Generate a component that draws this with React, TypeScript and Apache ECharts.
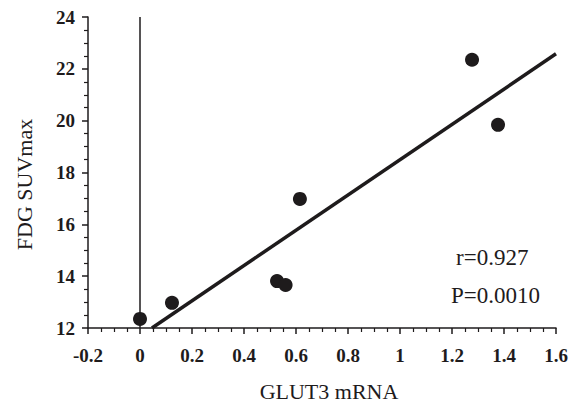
import React, { useEffect, useRef } from "react";
import * as echarts from "echarts";

const glut3: number[] = [0, 0.123, 0.527, 0.56, 0.615, 1.277, 1.377];
const suvmax: number[] = [12.35, 12.97, 13.81, 13.66, 16.98, 22.35, 19.84];
const fitX: number[] = [0.046, 1.6];
const fitY: number[] = [12, 22.58];
const statsText: string[] = ["r=0.927", "P=0.0010"];

const FONT = "'Liberation Serif', 'Times New Roman', serif";
const INK = "#1e1b1c";

export default function App() {
  const ref = useRef<HTMLDivElement>(null);
  useEffect(() => {
    if (!ref.current) return;
    const chart = echarts.init(ref.current, undefined, { renderer: "svg" });
    chart.setOption({
      animation: false,
      backgroundColor: "#ffffff",
      grid: { left: 88, right: 19, top: 17, bottom: 74, outerBoundsMode: "none", containLabel: false },
      xAxis: {
        type: "value",
        min: -0.2,
        max: 1.6,
        interval: 0.2,
        name: "GLUT3 mRNA",
        nameLocation: "middle",
        nameGap: 52,
        nameTextStyle: { fontFamily: FONT, fontSize: 22, color: INK, padding: [0, 0, 0, 14] },
        axisLine: { show: true, onZero: false, lineStyle: { color: INK, width: 1.5 } },
        axisTick: { show: true, length: 6, lineStyle: { color: INK, width: 1.5 } },
        minorTick: { show: true, splitNumber: 4, length: 4, lineStyle: { color: INK, width: 1.2 } },
        splitLine: { show: false },
        axisLabel: {
          fontFamily: FONT,
          fontSize: 19,
          fontWeight: "bold",
          color: INK,
          margin: 18,
          formatter: (v: number) => String(Math.round(v * 10) / 10),
        },
      },
      yAxis: {
        type: "value",
        min: 12,
        max: 24,
        interval: 2,
        name: "FDG SUVmax",
        nameLocation: "middle",
        nameGap: 53,
        nameTextStyle: { fontFamily: FONT, fontSize: 22, color: INK, padding: [0, 24, 0, 0] },
        axisLine: { show: true, onZero: false, lineStyle: { color: INK, width: 1.5 } },
        axisTick: { show: true, length: 6, lineStyle: { color: INK, width: 1.5 } },
        minorTick: { show: true, splitNumber: 4, length: 4, lineStyle: { color: INK, width: 1.2 } },
        splitLine: { show: false },
        axisLabel: {
          fontFamily: FONT,
          fontSize: 19,
          fontWeight: "bold",
          color: INK,
          margin: 13,
        },
      },
      series: [
        {
          type: "line",
          data: fitX.map((x, i) => [x, fitY[i]]),
          showSymbol: false,
          symbol: "none",
          lineStyle: { color: INK, width: 3.5 },
          z: 2,
        },
        {
          type: "scatter",
          data: glut3.map((x, i) => [x, suvmax[i]]),
          symbolSize: 14,
          itemStyle: { color: INK, opacity: 1 },
          z: 3,
          markLine: {
            silent: true,
            symbol: "none",
            label: { show: false },
            lineStyle: { color: INK, width: 1.5, type: "solid" },
            data: [{ xAxis: 0 }],
          },
        },
      ],
      graphic: [
        {
          type: "text",
          left: 456,
          top: 246,
          style: { text: statsText[0], font: `23px ${FONT}`, fill: INK },
        },
        {
          type: "text",
          left: 451,
          top: 284,
          style: { text: statsText[1], font: `23px ${FONT}`, fill: INK },
        },
      ],
    });
    return () => chart.dispose();
  }, []);
  return <div ref={ref} style={{ width: 575, height: 402, position: "absolute", left: 0, top: 0 }} />;
}
